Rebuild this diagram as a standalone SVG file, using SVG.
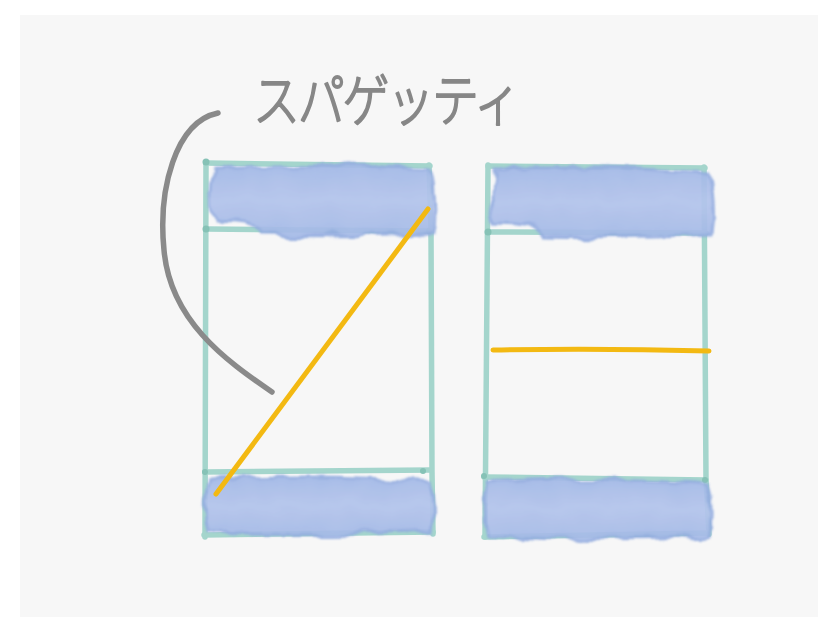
<svg xmlns="http://www.w3.org/2000/svg" width="818" height="617" viewBox="0 0 818 617">
<style>
.frame{fill:none;stroke:#a4d5cc;stroke-width:5.5;stroke-linecap:round;stroke-linejoin:round}
.dot{fill:#86c2b6}
.blob{fill:url(#bg);stroke:#94ade0;stroke-width:3;filter:url(#wc);opacity:0.93}
.yel{fill:none;stroke:#f3b912;stroke-width:5;stroke-linecap:round}
.gry{fill:none;stroke:#8a8a8a;stroke-width:5.5;stroke-linecap:round}
.lbl{font-family:"Noto Sans CJK JP","Noto Sans",sans-serif;font-weight:300;font-size:47px;fill:#878787;stroke:#878787;stroke-width:1.6;stroke-linejoin:round}
</style>
<defs>
<linearGradient id="bg" x1="0" y1="0" x2="0" y2="1">
<stop offset="0" stop-color="#a2b8e6"/>
<stop offset="0.5" stop-color="#b3c4ec"/>
<stop offset="1" stop-color="#a4b9e6"/>
</linearGradient>
<filter id="wc" x="-10%" y="-40%" width="120%" height="180%">
<feTurbulence type="fractalNoise" baseFrequency="0.035" numOctaves="2" seed="7"/>
<feDisplacementMap in="SourceGraphic" scale="14" xChannelSelector="R" yChannelSelector="G" result="d"/>
<feGaussianBlur in="d" stdDeviation="0.8"/>
</filter>
</defs>
<rect width="818" height="617" fill="#ffffff"/>
<rect x="20" y="15" width="798" height="602" fill="#f7f7f7"/>

<g id="box-left">
<path class="frame" d="M206,163 L430,166"/>
<path class="frame" d="M206,162 L205,537"/>
<path class="frame" d="M429,165 L431,230 L432,472 L433,534"/>
<path class="frame" d="M206,229 L430,231"/>
<path class="frame" d="M205,472 L431,470"/>
<path class="frame" d="M204,535 L433,532"/>
<circle class="dot" cx="206" cy="162" r="3.5"/>
<circle class="dot" cx="206" cy="229" r="3.5"/>
<circle class="dot" cx="429" cy="231" r="3"/>
<circle class="dot" cx="205" cy="472" r="3"/>
<circle class="dot" cx="423" cy="471" r="3"/>
<path class="blob" d="M214,168 Q320,163 430,169 Q437,200 434,233 Q340,236 262,234 Q256,222 238,221 L214,220 Q208,195 214,168 Z"/>
<path class="blob" d="M210,480 Q320,473 430,482 Q437,506 433,531 Q320,537 209,533 Q203,506 210,480 Z"/>
</g>

<g id="box-right">
<path class="frame" d="M488,166 L705,168"/>
<path class="frame" d="M488,165 L485,537"/>
<path class="frame" d="M704,167 L706,480 L709,534"/>
<path class="frame" d="M488,232 L706,233"/>
<path class="frame" d="M484,477 L706,480"/>
<path class="frame" d="M484,537 L708,533"/>
<circle class="dot" cx="488" cy="232" r="3.5"/>
<circle class="dot" cx="484" cy="476" r="3"/>
<circle class="dot" cx="705" cy="480" r="3"/>
<path class="blob" d="M494,169 Q600,165 709,173 Q716,204 712,234 Q620,238 543,236 Q536,224 518,223 L494,222 Q488,196 494,169 Z"/>
<path class="blob" d="M488,482 Q600,475 708,484 Q715,510 710,536 Q600,542 488,535 Q482,510 488,482 Z"/>
</g>

<g id="label">
<text class="lbl" transform="translate(253,121) scale(1,1.2)" x="0" y="0" textLength="268" lengthAdjust="spacing">スパゲッティ</text>
</g>

<g id="connectors">
<path class="yel" d="M216,494 L428,209"/>
<path class="yel" d="M493,350 Q600,348 709,351"/>
<path class="gry" d="M218,113 C175,122 158,190 164,250 C170,320 225,360 272,392"/>
</g>
</svg>
